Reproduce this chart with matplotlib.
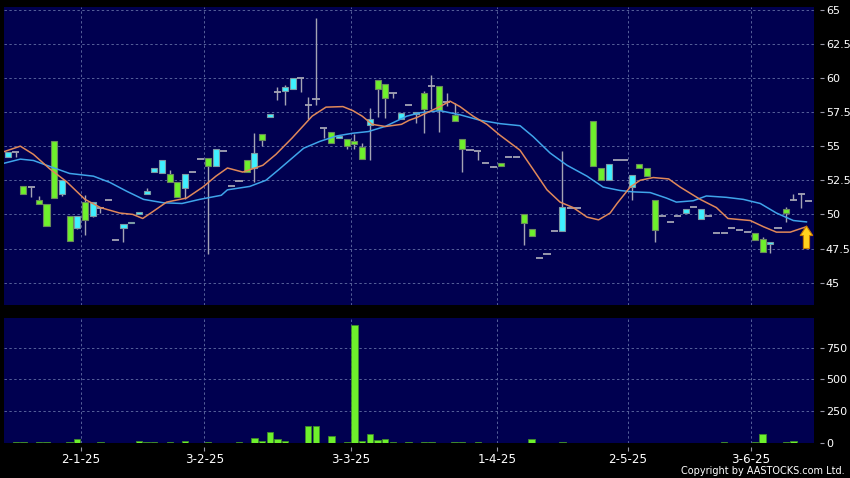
import numpy as np
import matplotlib
matplotlib.use('Agg')
import matplotlib.pyplot as plt
from matplotlib import font_manager
from matplotlib.patches import FancyArrow

nan = np.nan

# daily bars (one slot per bar)
opens = [54.2, 54.6, 52.1, 52.0, 51.07, 50.75, 55.4, 51.48, 49.87, 48.99,
         50.94, 49.89, 50.5, 51.07, 48.1, 48.99, 49.35, 50.0, 51.48, 53.1,
         53.02, 52.95, 52.41, 51.97, 53.07, 54.07, 54.12, 53.58, 54.66, 52.1,
         52.48, 54.0, 53.39, 55.88, 57.13, 58.96, 59.01, 59.21, 60.0, 58.03,
         58.45, 56.32, 56.03, 55.63, 55.52, 55.35, 54.93, 56.56, 59.87, 59.55,
         58.89, 56.98, 57.98, 57.37, 58.89, 59.43, 59.38, 58.2, 57.3, 55.52,
         54.73, 54.68, 53.8, 53.46, 53.75, 54.2, 54.2, 50.01, 48.92, 46.83,
         47.1, 48.79, 48.79, 50.46, 50.46, nan, 56.81, 53.39, 52.53, 54.0,
         54.0, 52.0, 53.68, 53.39, 51.07, 49.89, 49.47, 49.89, 50.09, 50.53,
         49.65, 49.89, 48.62, 48.67, 49.0, 48.82, 48.74, 48.62, 48.18, 47.8,
         49.0, 50.38, 51.07, 51.48, 51.0]
closes = [54.56, 54.6, 51.5, 52.0, 50.75, 49.16, 51.2, 52.53, 48.06, 49.91,
          49.6, 50.94, 50.5, 51.07, 48.1, 49.28, 49.47, 50.2, 51.73, 53.39,
          53.95, 52.41, 51.31, 52.95, 53.07, 54.07, 53.56, 54.78, 54.66, 52.1,
          52.48, 53.07, 54.49, 55.47, 57.37, 58.96, 59.33, 59.99, 60.0, 58.03,
          58.45, 56.32, 55.22, 55.78, 55.03, 55.15, 54.07, 56.98, 59.18, 58.52,
          58.89, 57.42, 57.98, 57.5, 57.72, 59.43, 57.67, 58.2, 56.81, 54.78,
          54.73, 54.68, 53.8, 53.46, 53.51, 54.2, 54.2, 49.4, 48.45, 46.83,
          47.1, 48.79, 50.53, 50.46, 50.46, nan, 53.51, 52.53, 53.68, 54.0,
          54.0, 52.9, 53.39, 52.85, 48.87, 49.89, 49.47, 49.89, 50.38, 50.53,
          50.38, 49.89, 48.62, 48.67, 49.0, 48.82, 48.74, 48.13, 47.23, 48.0,
          49.0, 50.13, 51.07, 51.48, 51.0]
highs = [54.6, 54.6, 52.1, 52.0, 51.36, 50.75, 55.4, 52.53, 49.87, 49.91,
         51.4, 50.94, 50.5, 51.07, 48.1, 49.28, 49.47, 50.2, 51.92, 53.39,
         53.95, 53.27, 52.41, 52.95, 53.07, 54.07, 54.12, 54.78, 54.66, 52.1,
         52.48, 54.0, 55.96, 55.88, 57.37, 59.33, 59.5, 59.99, 60.0, 58.6,
         64.4, 56.32, 56.03, 55.78, 55.52, 55.9, 55.22, 57.79, 59.87, 59.55,
         58.89, 57.42, 57.98, 57.5, 59.06, 60.23, 59.38, 58.89, 58.16, 55.52,
         54.73, 54.68, 53.8, 53.55, 53.8, 54.2, 54.2, 50.01, 48.92, 46.83,
         47.1, 48.79, 54.68, 50.46, 50.46, nan, 56.81, 53.39, 53.68, 54.0,
         54.0, 52.9, 53.68, 53.39, 51.07, 49.89, 49.47, 49.89, 50.38, 50.53,
         50.38, 49.89, 48.62, 48.67, 49.0, 48.82, 48.74, 48.62, 48.33, 48.0,
         49.0, 50.57, 51.48, 51.55, 51.0]
lows = [54.2, 54.2, 51.5, 51.3, 50.75, 49.16, 51.2, 51.36, 48.06, 48.9,
        48.5, 49.8, 50.1, 51.07, 48.1, 48.0, 49.35, 50.0, 51.48, 53.1,
        53.02, 52.41, 51.31, 51.14, 53.07, 54.07, 47.1, 53.58, 54.66, 52.1,
        52.48, 53.07, 52.41, 55.0, 57.13, 58.35, 57.98, 59.21, 59.0, 57.0,
        58.03, 55.63, 55.22, 55.63, 54.78, 54.8, 54.07, 53.95, 57.13, 57.1,
        58.52, 56.98, 57.98, 56.73, 56.0, 57.72, 56.07, 57.91, 56.81, 53.07,
        54.73, 53.95, 53.8, 53.46, 53.51, 54.2, 54.2, 47.77, 48.45, 46.83,
        47.1, 48.79, 48.79, 50.46, 50.46, nan, 53.51, 52.53, 52.53, 54.0,
        54.0, 51.07, 53.39, 52.85, 48.0, 49.89, 49.47, 49.89, 50.09, 50.53,
        49.65, 49.89, 48.62, 48.67, 49.0, 48.82, 48.74, 48.13, 47.23, 47.16,
        49.0, 49.47, 51.07, 50.46, 51.0]
volume = [0, 8, 8, 0, 5, 5, 0, 0, 5, 28,
          0, 0, 10, 0, 0, 0, 0, 18, 8, 8,
          0, 3, 0, 13, 0, 0, 3, 0, 0, 0,
          3, 0, 39, 18, 86, 26, 16, 0, 0, 131,
          131, 0, 50, 0, 10, 927, 18, 73, 23, 29,
          10, 0, 3, 0, 8, 8, 0, 0, 5, 5,
          0, 3, 0, 0, 0, 0, 0, 0, 30, 0,
          0, 0, 5, 0, 0, 0, 0, 0, 0, 0,
          0, 0, 0, 0, 0, 0, 0, 0, 0, 0,
          0, 0, 0, 3, 0, 0, 0, 10, 70, 0,
          0, 5, 13, 0, 0]

# moving averages (bar slot, value)
ma_fast_x = [-0.5, 1.6, 3.3, 5.5, 7.6, 10.0, 12.0, 14.5, 16.2, 17.5, 18.8, 20.6,
             23.2, 25.3, 27.0, 28.5, 30.5, 33.1, 34.8, 36.9, 39.5, 41.3, 43.5,
             44.8, 46.0, 47.3, 49.0, 51.1, 52.1, 53.1, 56.1, 57.4, 58.7, 60.4,
             62.2, 63.9, 66.5, 68.2, 70.0, 71.7, 73.4, 75.2, 76.7, 78.2, 79.1,
             80.8, 82.1, 83.8, 85.8, 87.3, 89.9, 92.0, 93.5, 96.4, 98.1, 99.8,
             101.6, 103.7]
ma_fast = [54.6, 55.0, 54.4, 53.3, 52.4, 51.1, 50.5, 50.1, 50.0, 49.7, 50.2, 50.9,
           51.2, 52.0, 52.8, 53.4, 53.1, 53.6, 54.4, 55.6, 57.2, 57.86, 57.9,
           57.6, 57.2, 56.6, 56.44, 56.6, 56.9, 57.1, 57.9, 58.3, 57.9, 57.2,
           56.6, 55.8, 54.7, 53.3, 51.8, 50.9, 50.5, 49.8, 49.6, 50.1, 50.8,
           52.0, 52.5, 52.7, 52.6, 52.0, 51.1, 50.5, 49.7, 49.55, 49.1, 48.7,
           48.7, 49.1]
ma_slow_x = [-0.5, 1.6, 3.3, 5.5, 8.0, 11.1, 13.2, 15.4, 17.6, 20.2, 22.6, 24.9,
             27.7, 28.5, 31.4, 33.5, 35.2, 38.4, 40.5, 42.7, 44.8, 46.8, 49.0,
             51.8, 53.5, 56.1, 58.7, 61.3, 63.9, 66.5, 68.2, 70.4, 72.6, 75.2,
             77.3, 79.5, 81.2, 83.4, 85.5, 86.8, 89.0, 90.7, 93.3, 95.5, 97.7,
             99.8, 102.0, 103.7]
ma_slow = [53.75, 54.05, 53.95, 53.5, 53.0, 52.8, 52.35, 51.7, 51.1, 50.85, 50.8,
           51.1, 51.4, 51.8, 52.05, 52.5, 53.3, 54.85, 55.35, 55.75, 55.95, 56.07,
           56.45, 57.2, 57.45, 57.6, 57.3, 56.9, 56.65, 56.5, 55.7, 54.5, 53.6,
           52.8, 52.0, 51.75, 51.65, 51.6, 51.2, 50.9, 51.0, 51.35, 51.25, 51.1,
           50.8, 50.1, 49.55, 49.45]

# first bar of each month and its label
month_first_bar = [10, 26, 45, 64, 81, 97]
month_labels = ['2-1-25', '3-2-25', '3-3-25', '1-4-25', '2-5-25', '3-6-25']
price_ticks = [45, 47.5, 50, 52.5, 55, 57.5, 60, 62.5, 65]
volume_ticks = [0, 250, 500, 750]

NAVY = '#000050'
GRID = '#56609a'
UP = '#3ff0ff'
DOWN = '#6ef02c'
WICK = '#a4a4b4'
TXT = 'white'

o = np.array(opens, dtype=float)
c = np.array(closes, dtype=float)
h = np.array(highs, dtype=float)
l = np.array(lows, dtype=float)
v = np.array(volume, dtype=float)
idx = np.arange(len(o))
ok = ~np.isnan(o)
up = ok & (c > o)
dn = ok & (c < o)
flat = ok & (c == o)

fig = plt.figure(figsize=(8.5, 4.78), dpi=100, facecolor='black')
W, H = 850.0, 478.0
ax1 = fig.add_axes([4 / W, 1 - 305 / H, 810 / W, 298.3 / H])
ax2 = fig.add_axes([4 / W, 1 - 443.3 / H, 810 / W, 125 / H])

for ax in (ax1, ax2):
    ax.set_facecolor(NAVY)
    ax.set_xlim(-0.52, 104.68)
    for s in ax.spines.values():
        s.set_visible(False)
    ax.spines['right'].set_position(('outward', 4))
    ax.spines['bottom'].set_position(('outward', 3))
    ax.yaxis.tick_right()
    ax.set_xticks([m - 0.5 for m in month_first_bar])
    ax.grid(True, color=GRID, linestyle=(0, (2.5, 2.5)), linewidth=0.7)
    ax.set_axisbelow(True)
    ax.tick_params(axis='y', colors='#9a9aa8', labelcolor=TXT, length=3,
                   width=0.8, pad=1.5, labelsize=8.0)

# price panel
ax1.set_ylim(43.36, 65.22)
ax1.set_yticks(price_ticks)
ax1.set_yticklabels(['%g' % t for t in price_ticks])
ax1.tick_params(axis='x', length=0, labelbottom=False)

ax1.vlines(idx[ok], l[ok], h[ok], color=WICK, linewidth=1.0, zorder=2)
ax1.bar(idx[up], c[up] - o[up], bottom=o[up], width=0.78, color=UP,
        edgecolor='#7c9aa4', linewidth=0.8, zorder=3)
ax1.bar(idx[dn], o[dn] - c[dn], bottom=c[dn], width=0.78, color=DOWN,
        edgecolor='#6a8a5c', linewidth=0.8, zorder=3)
ax1.hlines(o[flat], idx[flat] - 0.46, idx[flat] + 0.46, color=WICK,
           linewidth=1.3, zorder=3)

ax1.plot(ma_slow_x, ma_slow, color='#3fa4ea', linewidth=1.1, zorder=4)
ax1.plot(ma_fast_x, ma_fast, color='#e0885a', linewidth=1.1, zorder=5)

# marker arrow under the last average value
ax1.add_patch(FancyArrow(ma_fast_x[-1], ma_fast[-1] - 1.6, 0, 0.95, width=0.8,
                         head_width=1.65, head_length=0.7,
                         length_includes_head=False, fc='#ffd21e',
                         ec='#c87a00', linewidth=0.8, zorder=6))

# volume panel
ax2.set_ylim(-4, 980)
ax2.set_yticks(volume_ticks)
ax2.bar(idx, v, width=0.82, color=DOWN, edgecolor='#3f8a2a', linewidth=0.6,
        zorder=3)
ax2.set_xticklabels(month_labels)
ax2.tick_params(axis='x', colors='#9a9aa8', labelcolor=TXT, length=3,
                width=0.8, pad=1.0, labelsize=8.6)

names = {f.name for f in font_manager.fontManager.ttflist}
if 'Liberation Sans Narrow' in names:
    cp_font, cp_size = 'Liberation Sans Narrow', 9.2
else:
    cp_font, cp_size = 'DejaVu Sans', 7.0
fig.text(845 / W, 1 - 471.5 / H, 'Copyright by AASTOCKS.com Ltd.', color=TXT,
         ha='right', va='center', fontsize=cp_size, family=cp_font)

fig.savefig('out.png', dpi=100, facecolor='black')
